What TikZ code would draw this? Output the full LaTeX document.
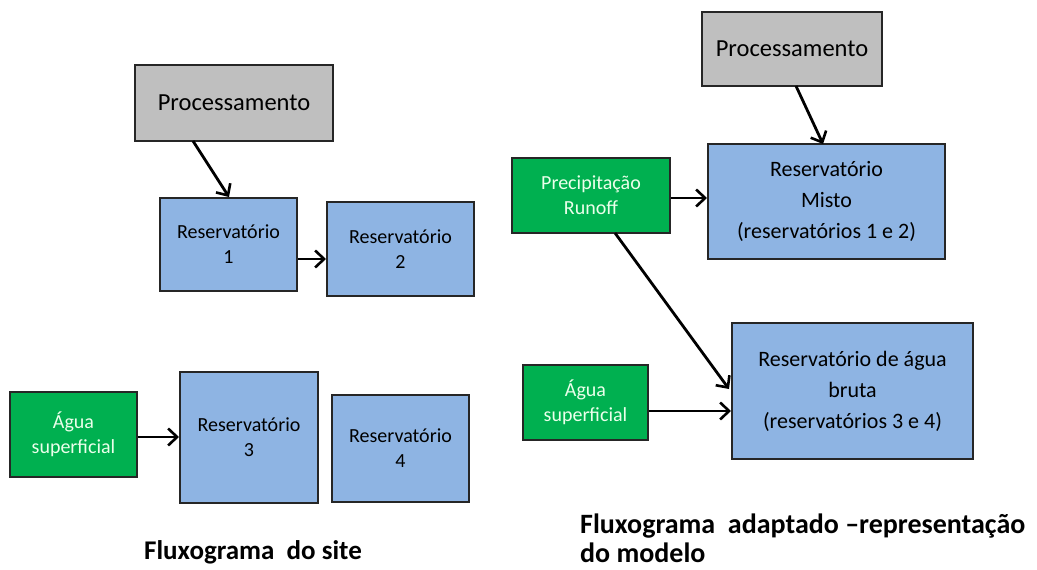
\documentclass[tikz,border=0pt]{standalone}
\usepackage{fontspec}
\setmainfont{Carlito}
\usetikzlibrary{arrows.meta}
\definecolor{boxblue}{HTML}{8EB4E3}
\definecolor{boxgreen}{HTML}{00B050}
\definecolor{boxgray}{HTML}{BFBFBF}
\tikzset{
  box/.style={draw=black!85, line width=2pt, align=center, inner sep=0pt},
  grayb/.style={box, fill=boxgray},
  blueb/.style={box, fill=boxblue},
  greenb/.style={box, fill=boxgreen, text=white!92!green},
  conn/.style={line width=2.8pt, -{Straight Barb[length=9pt,width=17pt,line width=2.6pt]}},
  smallt/.style={font=\fontsize{20}{25}\selectfont},
  bigt/.style={font=\fontsize{22}{31}\selectfont},
  proct/.style={font=\fontsize{24.5}{28}\selectfont},
  caption/.style={font=\bfseries\fontsize{27}{31}\selectfont, inner sep=0pt, anchor=base west},
  captionr/.style={caption, font=\bfseries\fontsize{28}{31}\selectfont}
}
\begin{document}
\begin{tikzpicture}[x=1pt,y=-1pt]
\useasboundingbox (0,0) rectangle (1037,570);
% left diagram
\node[grayb, minimum width=198pt, minimum height=76pt, proct] (pL) at (234,103) {Processamento};
\node[blueb, minimum width=137pt, minimum height=93pt, smallt] (r1) at (228.5,244.5) {Reservatório\\1};
\node[blueb, minimum width=147pt, minimum height=94pt, smallt] (r2) at (400.5,249) {Reservatório\\2};
\node[greenb, minimum width=127pt, minimum height=85pt, smallt] (aL) at (73.5,434.5) {Água\\superficial};
\node[blueb, minimum width=138pt, minimum height=131pt, smallt] (r3) at (249,437.5) {Reservatório\\3};
\node[blueb, minimum width=137pt, minimum height=107pt, smallt] (r4) at (400.5,448.5) {Reservatório\\4};
\coordinate (pLs) at (193,141);
\coordinate (r1t) at (229,197);
\draw[conn] (pLs) -- (r1t);
\draw[conn] (r1.east |- 0,259) -- (r2.west |- 0,259);
\draw[conn] (aL.east |- 0,437) -- (r3.west |- 0,437);
\node[caption] (capL) at (144,559) {Fluxograma\ \ do site};
% right diagram
\node[grayb, minimum width=180pt, minimum height=74pt, proct] (pR) at (792,49) {Processamento};
\node[blueb, minimum width=237pt, minimum height=115pt, bigt] (mix) at (826.5,201.5) {Reservatório\\Misto\\(reservatórios 1 e 2)};
\node[greenb, minimum width=158pt, minimum height=75pt, smallt] (pr) at (591,195.5) {Precipitação\\Runoff};
\node[blueb, minimum width=241pt, minimum height=136pt, bigt] (bru) at (852.5,391) {Reservatório de água\\bruta\\(reservatórios 3 e 4)};
\node[greenb, minimum width=125pt, minimum height=75pt, smallt] (aR) at (585.5,402.5) {Água\\superficial};
\coordinate (pRs) at (796,86);
\coordinate (mixt) at (823,144);
\draw[conn] (pRs) -- (mixt);
\draw[conn] (pr.east |- 0,198) -- (mix.west |- 0,198);
\coordinate (prs) at (615,233);
\coordinate (brin) at (729,389);
\draw[conn] (prs) -- (brin);
\draw[conn] (aR.east |- 0,411) -- (bru.west |- 0,411);
\node[captionr] (capR1) at (580,533) {Fluxograma\ \ adaptado –representação};
\node[captionr] (capR2) at (580,562) {do modelo};
\end{tikzpicture}
\end{document}
